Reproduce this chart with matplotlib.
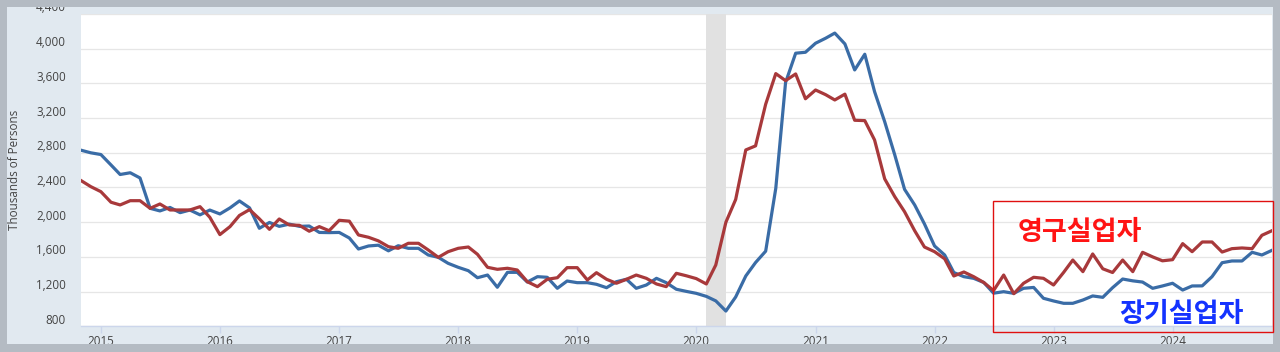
import matplotlib
matplotlib.use('Agg')
import matplotlib.pyplot as plt
from matplotlib.patches import Rectangle
import pandas as pd

# ---------------- data (thousands of persons, monthly Nov 2014 - Nov 2024) ----------------
start_month = '2014-11-01'
n_months = 121

long_term_unemployed = [
    2830, 2800, 2780, 2660, 2550, 2570, 2510, 2160, 2130, 2170, 2110, 2140,
    2085, 2140, 2095, 2165, 2245, 2165, 1930, 1997, 1952, 1978, 1952, 1956,
    1882, 1880, 1882, 1818, 1691, 1726, 1735, 1670, 1729, 1699, 1699, 1622,
    1595, 1526, 1480, 1441, 1360, 1391, 1250, 1422, 1422, 1310, 1372, 1365,
    1238, 1322, 1303, 1303, 1284, 1245, 1314, 1342, 1238, 1276, 1353, 1303,
    1227, 1203, 1180, 1145, 1093, 976, 1138, 1380, 1535, 1666, 2390, 3610,
    3948, 3959, 4063, 4121, 4180, 4055, 3755, 3936, 3505, 3159, 2775, 2379,
    2199, 1980, 1726, 1622, 1420, 1372, 1353, 1305, 1182, 1199, 1180, 1238,
    1248, 1123, 1092, 1065, 1065, 1103, 1150, 1134, 1245, 1345, 1324, 1310,
    1238, 1265, 1296, 1218, 1265, 1266, 1372, 1533, 1553, 1553, 1653, 1622,
    1676,
]

permanent_job_losers = [
    2480, 2410, 2352, 2230, 2199, 2248, 2248, 2160, 2210, 2141, 2141, 2141,
    2179, 2057, 1857, 1949, 2078, 2145, 2039, 1918, 2037, 1968, 1964, 1896,
    1949, 1902, 2022, 2012, 1853, 1826, 1785, 1718, 1699, 1757, 1757, 1680,
    1595, 1660, 1699, 1714, 1630, 1480, 1457, 1469, 1449, 1314, 1257, 1342,
    1360, 1476, 1476, 1334, 1418, 1342, 1296, 1342, 1391, 1353, 1288, 1257,
    1411, 1383, 1350, 1288, 1507, 2000, 2262, 2833, 2880, 3360, 3713, 3632,
    3709, 3423, 3524, 3470, 3409, 3476, 3175, 3171, 2948, 2500, 2294, 2121,
    1902, 1714, 1660, 1578, 1380, 1426, 1372, 1305, 1212, 1391, 1176, 1296,
    1365, 1353, 1276, 1422, 1564, 1430, 1634, 1463, 1420, 1564, 1430, 1653,
    1600, 1555, 1568, 1753, 1660, 1772, 1772, 1656, 1695, 1703, 1695, 1849,
    1902,
]

y_ticks = [800, 1200, 1600, 2000, 2400, 2800, 3200, 3600, 4000, 4400]
x_years = [2015, 2016, 2017, 2018, 2019, 2020, 2021, 2022, 2023, 2024]
recession = ('2020-02-01', '2020-04-01')
y_label = 'Thousands of Persons'
label_permanent = '영구실업자'
label_longterm = '장기실업자'

# ---------------- layout helpers ----------------
W, H = 1280, 352
def fx(px):
    return px / W
def fy(py):
    return 1 - py / H

dates = pd.date_range(start_month, periods=n_months, freq='MS')

fig = plt.figure(figsize=(12.8, 3.52), dpi=100, facecolor='#b4bbc3')

panel = Rectangle((fx(7), fy(344)), fx(1273) - fx(7), fy(7) - fy(344),
                  transform=fig.transFigure, facecolor='#e1e9f0',
                  edgecolor='none', zorder=-5)
fig.add_artist(panel)

ax = fig.add_axes([fx(81), fy(326.3), fx(1272) - fx(81), fy(14) - fy(326.3)])
ax.set_facecolor('white')

# grid
ax.set_ylim(800, 4400)
ax.set_yticks(y_ticks)
ax.grid(axis='y', color='#e6e6e6', lw=0.9)
ax.set_axisbelow(True)
ax.tick_params(axis='y', length=0, labelleft=False)

tick_col = '#444444'
fs = 8.4
for v in y_ticks:
    ax.annotate(f'{v:,}', xy=(0, v), xycoords=('axes fraction', 'data'),
                xytext=(-15 * 0.72, 6 * 0.72), textcoords='offset points',
                ha='right', va='center', fontsize=fs, color=tick_col,
                family='Open Sans', annotation_clip=False)

fig.text(fx(15), fy(170), y_label, rotation=90, ha='center', va='center',
         fontsize=fs, color=tick_col, family='Open Sans')

# x axis
ax.set_xlim(dates[0], dates[-1])
ax.set_xticks([pd.Timestamp(f'{y}-01-01') for y in x_years])
ax.set_xticklabels([str(y) for y in x_years], family='Open Sans')
ax.tick_params(axis='x', length=5, width=1, color='#ccd6eb', pad=1.2,
               labelsize=fs, labelcolor=tick_col)
for s in ['top', 'right', 'left']:
    ax.spines[s].set_visible(False)
ax.spines['bottom'].set_color('#ccd6eb')
ax.spines['bottom'].set_linewidth(1)

# recession shading
ax.axvspan(pd.Timestamp(recession[0]), pd.Timestamp(recession[1]),
           color='#e1e1e1', lw=0, zorder=1.5)

# series
ax.plot(dates, long_term_unemployed, color='#3a6ca6', lw=2.3, zorder=3)
ax.plot(dates, permanent_job_losers, color='#a8393b', lw=2.3, zorder=4)

# annotation box & labels
box = Rectangle((fx(992.7), fy(331.7)), fx(1273.3) - fx(992.7), fy(201.3) - fy(331.7),
                transform=fig.transFigure, fill=False, edgecolor='#e01010',
                lw=1.0, zorder=20)
fig.add_artist(box)
fig.text(fx(1080), fy(232), label_permanent, ha='center', va='center',
         fontsize=19.5, color='#ff1414', weight='bold',
         family=['Noto Sans CJK KR', 'DejaVu Sans'], zorder=21)
fig.text(fx(1181.5), fy(313.5), label_longterm, ha='center', va='center',
         fontsize=19.5, color='#1433ff', weight='bold',
         family=['Noto Sans CJK KR', 'DejaVu Sans'], zorder=21)

# outer grey border on top (clips the top label slightly like the original)
border_col = '#b4bbc3'
for (x0, y0, x1, y1) in [(0, 0, W, 7), (0, 344, W, H), (0, 0, 7, H), (1273, 0, W, H)]:
    fig.add_artist(Rectangle((fx(x0), fy(y1)), fx(x1) - fx(x0), fy(y0) - fy(y1),
                             transform=fig.transFigure, facecolor=border_col,
                             edgecolor='none', zorder=10))

fig.savefig('out.png', dpi=100, facecolor=fig.get_facecolor())
